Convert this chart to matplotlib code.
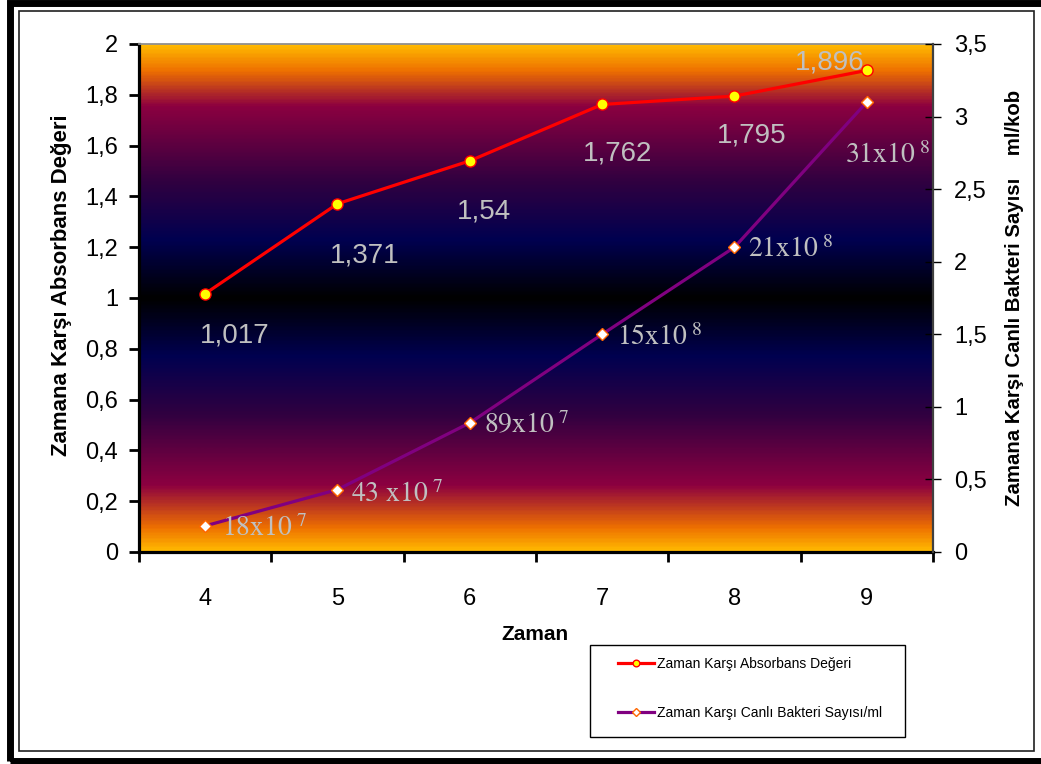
import matplotlib
matplotlib.use('Agg')
import matplotlib.pyplot as plt
import matplotlib.patches as patches
import matplotlib.ticker as ticker
from matplotlib.colors import LinearSegmentedColormap
import numpy as np

plt.rcParams['font.family'] = ['Liberation Sans', 'DejaVu Sans']
plt.rcParams['mathtext.fontset'] = 'stix'

# data
zaman = [4, 5, 6, 7, 8, 9]
absorbans = [1.017, 1.371, 1.54, 1.762, 1.795, 1.896]
absorbans_labels = ['1,017', '1,371', '1,54', '1,762', '1,795', '1,896']
bakteri = [0.18, 0.43, 0.89, 1.5, 2.1, 3.1]
bakteri_labels = [r'$\mathrm{18x10}^{\ 7}$', r'$\mathrm{43\ x10}^{\ 7}$', r'$\mathrm{89x10}^{\ 7}$',
                  r'$\mathrm{15x10}^{\ 8}$', r'$\mathrm{21x10}^{\ 8}$', r'$\mathrm{31x10}^{\ 8}$']
left_ticks = [0, 0.2, 0.4, 0.6, 0.8, 1, 1.2, 1.4, 1.6, 1.8, 2]
right_ticks = [0, 0.5, 1, 1.5, 2, 2.5, 3, 3.5]

# label offsets in pixels (dx, dy)
px = 0.72
abs_off = [(-5, -42), (-8, -52), (-13, -51), (-19, -49), (-18, -39), (-72, 8)]
bak_off = [(17, -10), (14, -12), (14, -11), (15, -11), (14, -10), (-22, -61)]

fig = plt.figure(figsize=(10.41, 7.64), dpi=100)
ax = fig.add_axes([139 / 1041, 1 - 552 / 764, 794 / 1041, 508 / 764])

# gradient background
grad_cmap = LinearSegmentedColormap.from_list('bg', [
    (0.0, '#FFB800'), (0.05, '#EE7000'), (0.12, '#8C0040'), (0.27, '#300040'),
    (0.385, '#000050'), (0.5, '#000000'), (0.615, '#000050'), (0.73, '#300040'),
    (0.87, '#8C0040'), (0.955, '#EE7000'), (1.0, '#FFB800')])
ax.imshow(np.linspace(0, 1, 400).reshape(-1, 1), cmap=grad_cmap, aspect='auto',
          extent=(0, 1, 0, 1), transform=ax.transAxes, zorder=0)

l1, = ax.plot(zaman, absorbans, color='#FF0000', lw=2.3, marker='o', ms=8,
              mfc='#FFFF00', mec='#FF0000', mew=1, zorder=3,
              label='Zaman Karşı Absorbans Değeri')
ax.set_xlim(3.5, 9.5)
ax.set_ylim(0, 2)
ax.set_yticks(left_ticks)
ax.set_yticklabels([f'{t:g}'.replace('.', ',') for t in left_ticks])
ax.set_xticks(zaman)
ax.xaxis.set_minor_locator(ticker.FixedLocator(np.arange(3.5, 10, 1)))
ax.tick_params(axis='x', which='major', length=0, labelsize=17, pad=26)
ax.tick_params(axis='x', which='minor', direction='out', length=7, width=2)
ax.tick_params(axis='y', direction='out', length=7, width=2, labelsize=17, pad=8)
for s in ['left', 'bottom']:
    ax.spines[s].set_linewidth(2.3)
    ax.spines[s].set_color('black')
ax.spines['top'].set_color('#909090')
ax.spines['top'].set_linewidth(1.3)
ax.spines['right'].set_visible(False)

for x, y, t, (dx, dy) in zip(zaman, absorbans, absorbans_labels, abs_off):
    ax.annotate(t, (x, y), xytext=(dx * px, dy * px), textcoords='offset points',
                ha='left', va='center', fontsize=20, color='#C0C0C0', zorder=4)

ax.set_xlabel('Zaman', fontsize=15, fontweight='bold')
ax.xaxis.set_label_coords(396 / 794, -(634 - 552) / 508)
ax.set_ylabel('Zamana Karşı Absorbans Değeri', fontsize=16, fontweight='bold')
ax.yaxis.set_label_coords(-(139 - 62) / 794, (552 - 285) / 508)
ax.xaxis.label.set_va('center')
ax.yaxis.label.set_va('center')

ax2 = ax.twinx()
l2, = ax2.plot(zaman, bakteri, color='#800080', lw=2.3, marker='D', ms=6.5,
               mfc='white', mec='#FF6600', mew=1, zorder=3,
               label='Zaman Karşı Canlı Bakteri Sayısı/ml')
ax2.set_ylim(0, 3.5)
ax2.set_yticks(right_ticks)
ax2.set_yticklabels([f'{t:g}'.replace('.', ',') for t in right_ticks])
ax2.tick_params(axis='y', direction='inout', length=12, width=1, labelsize=17, pad=9)
ax2.spines['right'].set_color('#404040')
ax2.spines['right'].set_linewidth(1.6)
for s in ['left', 'bottom', 'top']:
    ax2.spines[s].set_visible(False)

for x, y, t, (dx, dy) in zip(zaman, bakteri, bakteri_labels, bak_off):
    ax2.annotate(t, (x, y), xytext=(dx * px, dy * px), textcoords='offset points',
                 ha='left', va='baseline', fontsize=20, color='#C0C0C0', zorder=4)

fig.text(1015 / 1041, 1 - 298 / 764, 'Zamana Karşı Canlı Bakteri Sayısı    ml/kob',
         rotation=90, ha='center', va='center', fontsize=14.7, fontweight='bold')

# legend box and entries
fig.add_artist(patches.Rectangle((590 / 1041, 1 - 737 / 764), 315 / 1041, 92 / 764,
                                 transform=fig.transFigure, facecolor='white',
                                 edgecolor='black', lw=1))
leg = fig.legend([l1, l2], [l1.get_label(), l2.get_label()], loc='upper left',
                 bbox_to_anchor=(618 / 1041, 1 - 657 / 764),
                 fontsize=10, frameon=False, labelspacing=2.5, handlelength=2.6,
                 handletextpad=0.2, markerscale=0.6, borderpad=0, borderaxespad=0)

# chart frames
fig.add_artist(patches.Rectangle((19 / 1041, 13 / 764), 1015 / 1041, 740 / 764,
                                 transform=fig.transFigure, fill=False,
                                 edgecolor='#202020', lw=1.2))
fig.add_artist(patches.Rectangle((10 / 1041, 3 / 764), 1040 / 1041, 758 / 764,
                                 transform=fig.transFigure, fill=False,
                                 edgecolor='black', lw=5))

fig.savefig('out.png', dpi=100)
